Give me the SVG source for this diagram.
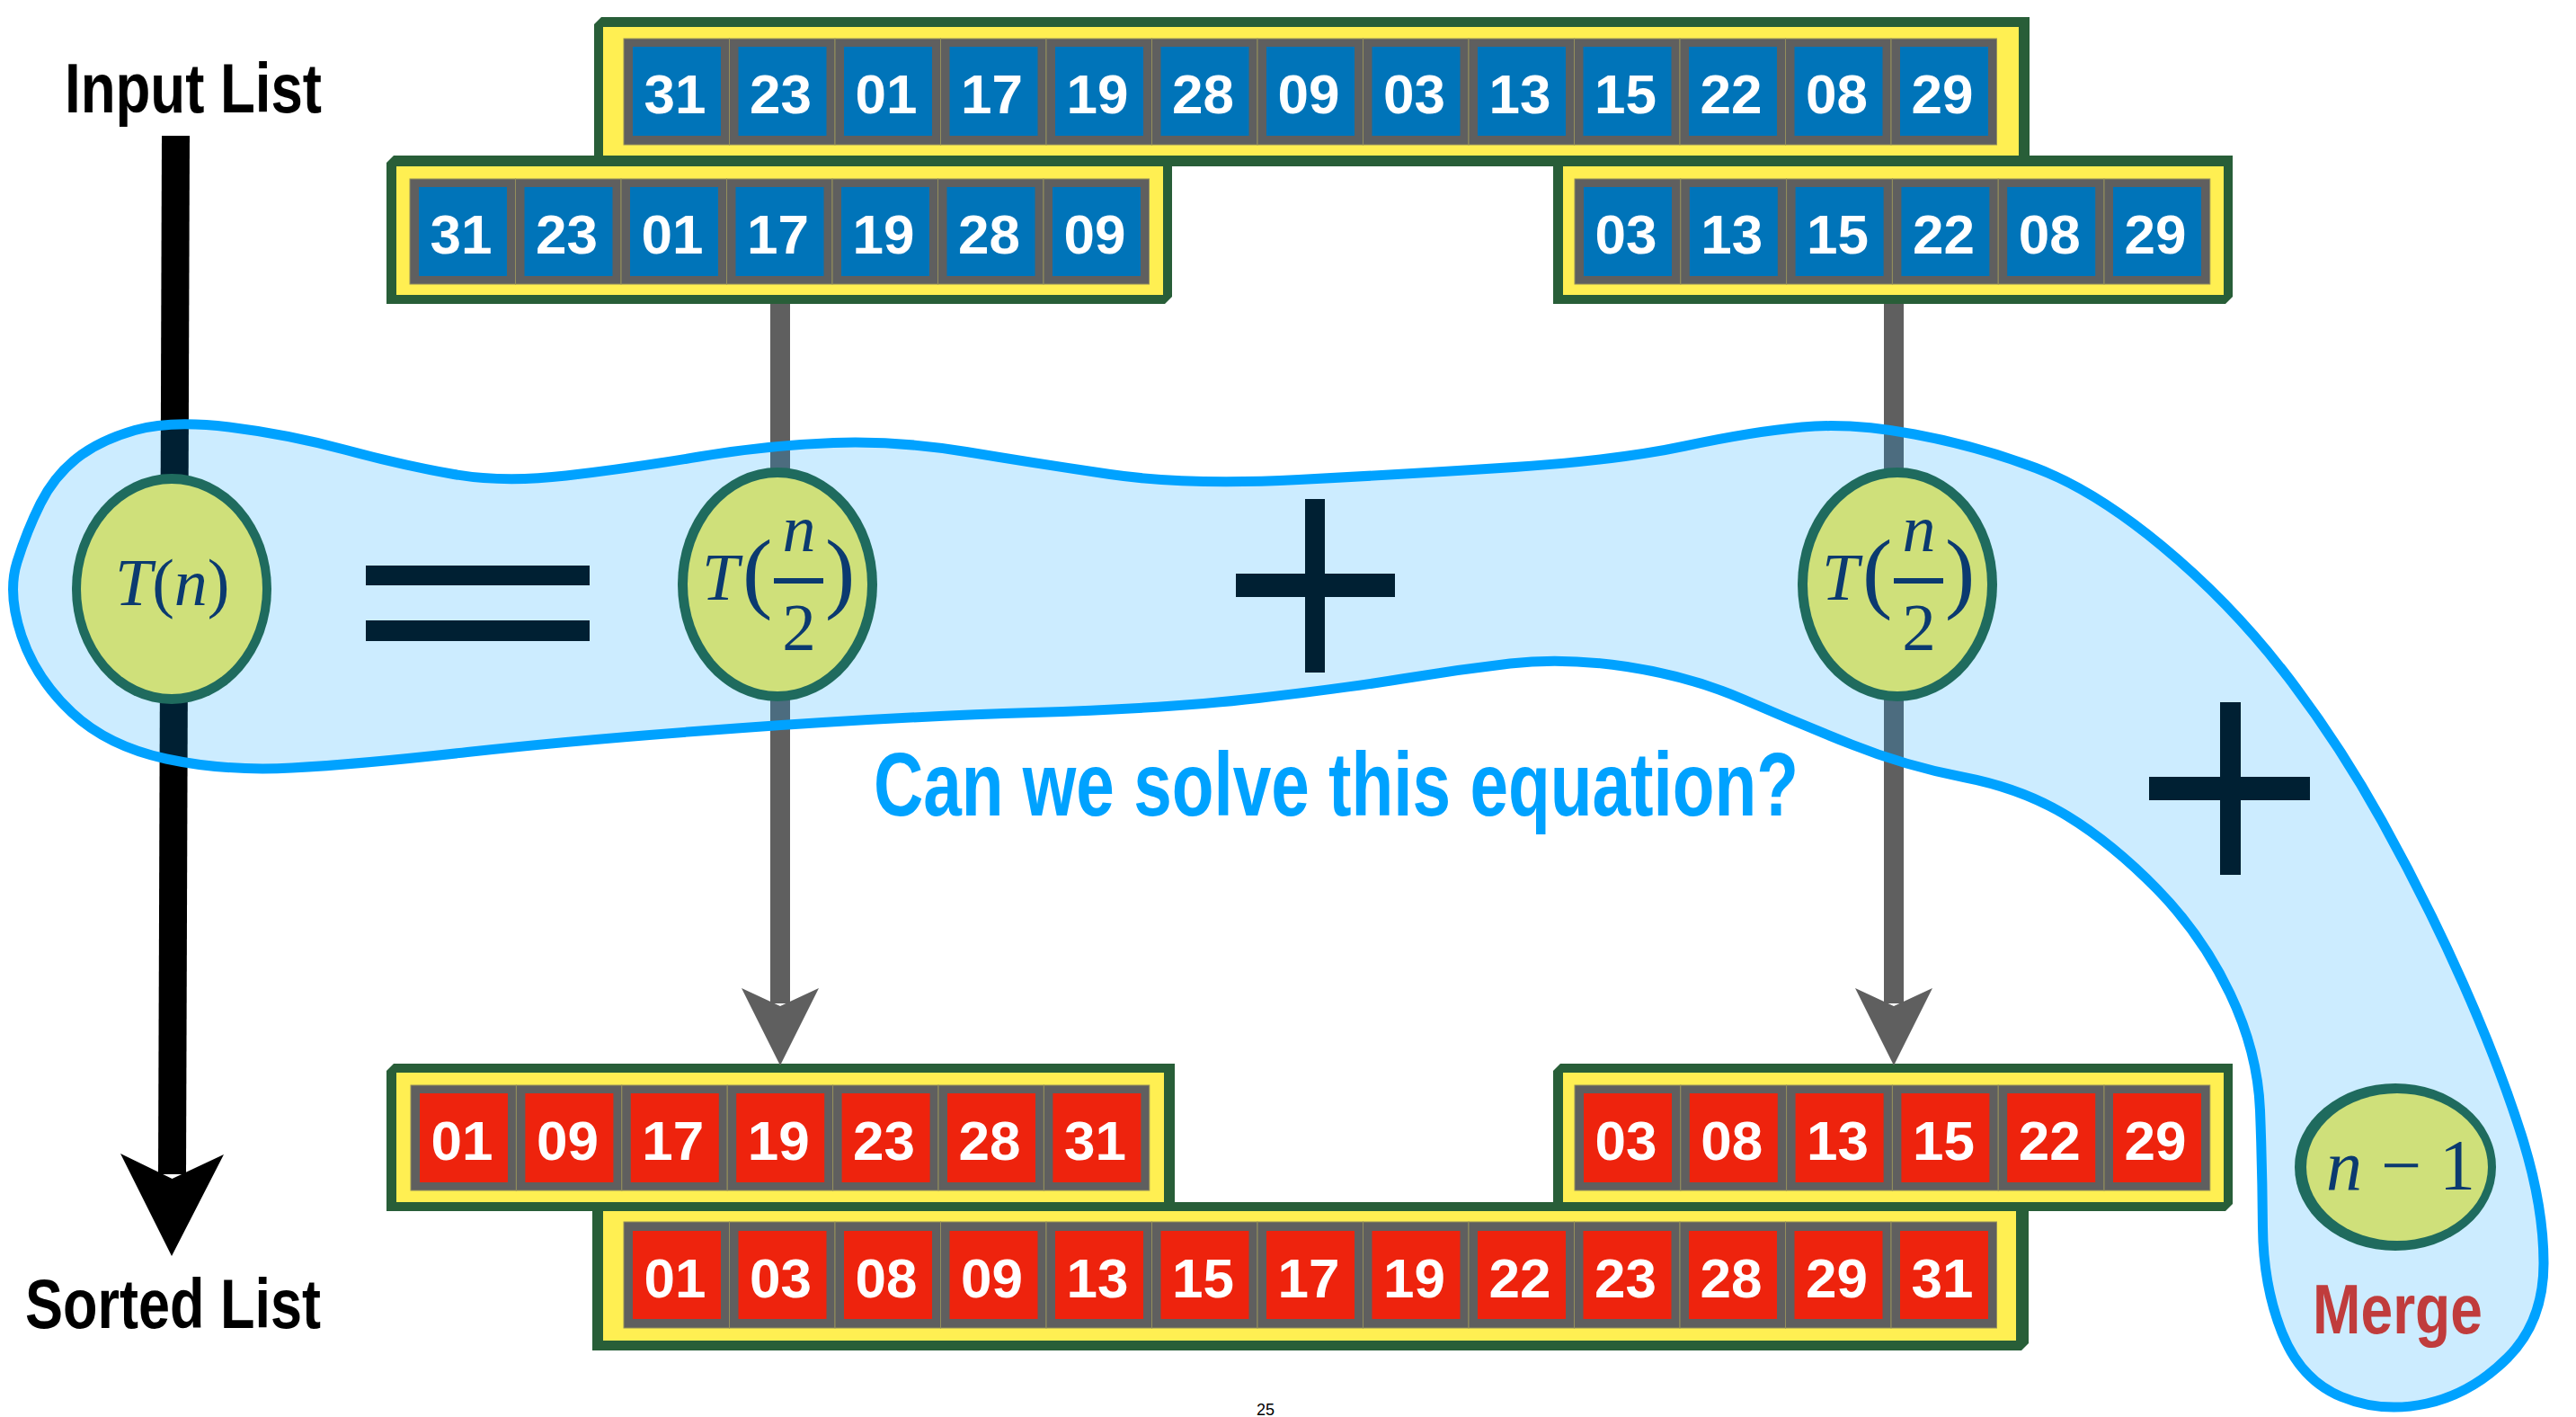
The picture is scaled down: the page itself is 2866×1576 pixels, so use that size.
<svg xmlns="http://www.w3.org/2000/svg" width="2866" height="1576" viewBox="0 0 2866 1576">
<style>
.gf{fill:#285e38}
.yf{fill:#ffef52}
.gc{fill:#5f5f5f;stroke:#948f5c;stroke-width:1}
.bc{fill:#0074b9}
.rc{fill:#ee230d}
.d{font-family:"Liberation Sans",Arial,sans-serif;font-weight:bold;font-size:62px;fill:#ffffff;text-anchor:middle}
.ed{fill:#1f6b5e}
.el{fill:#cfe07a}
.m{font-family:"Liberation Serif","Times New Roman",serif;fill:#0b3a70}
.lbl{font-family:"Liberation Sans",Arial,sans-serif;font-weight:bold}
.sign{fill:#000000}
</style>
<rect width="2866" height="1576" fill="#ffffff"/>

<g id="row-input">
<path class="gf" d="M661,27 L669,19 H2258 V177 L2250,185 H661 Z"/>
<rect class="yf" x="671" y="30" width="1575" height="143"/>
<rect class="gc" x="694" y="43" width="117.5" height="118"/><rect class="bc" x="704" y="52" width="98" height="99"/><text class="d" x="751" y="126">31</text>
<rect class="gc" x="811.5" y="43" width="117.5" height="118"/><rect class="bc" x="821.5" y="52" width="98" height="99"/><text class="d" x="868.5" y="126">23</text>
<rect class="gc" x="929" y="43" width="117.5" height="118"/><rect class="bc" x="939" y="52" width="98" height="99"/><text class="d" x="986" y="126">01</text>
<rect class="gc" x="1046.5" y="43" width="117.5" height="118"/><rect class="bc" x="1056.5" y="52" width="98" height="99"/><text class="d" x="1103.5" y="126">17</text>
<rect class="gc" x="1164" y="43" width="117.5" height="118"/><rect class="bc" x="1174" y="52" width="98" height="99"/><text class="d" x="1221" y="126">19</text>
<rect class="gc" x="1281.5" y="43" width="117.5" height="118"/><rect class="bc" x="1291.5" y="52" width="98" height="99"/><text class="d" x="1338.5" y="126">28</text>
<rect class="gc" x="1399" y="43" width="117.5" height="118"/><rect class="bc" x="1409" y="52" width="98" height="99"/><text class="d" x="1456" y="126">09</text>
<rect class="gc" x="1516.5" y="43" width="117.5" height="118"/><rect class="bc" x="1526.5" y="52" width="98" height="99"/><text class="d" x="1573.5" y="126">03</text>
<rect class="gc" x="1634" y="43" width="117.5" height="118"/><rect class="bc" x="1644" y="52" width="98" height="99"/><text class="d" x="1691" y="126">13</text>
<rect class="gc" x="1751.5" y="43" width="117.5" height="118"/><rect class="bc" x="1761.5" y="52" width="98" height="99"/><text class="d" x="1808.5" y="126">15</text>
<rect class="gc" x="1869" y="43" width="117.5" height="118"/><rect class="bc" x="1879" y="52" width="98" height="99"/><text class="d" x="1926" y="126">22</text>
<rect class="gc" x="1986.5" y="43" width="117.5" height="118"/><rect class="bc" x="1996.5" y="52" width="98" height="99"/><text class="d" x="2043.5" y="126">08</text>
<rect class="gc" x="2104" y="43" width="117.5" height="118"/><rect class="bc" x="2114" y="52" width="98" height="99"/><text class="d" x="2161" y="126">29</text>
</g>

<g id="row-split-left">
<path class="gf" d="M430,181 L438,173 H1304 V330 L1296,338 H430 Z"/>
<rect class="yf" x="441" y="185" width="853" height="143"/>
<rect class="gc" x="456" y="199" width="117.5" height="117"/><rect class="bc" x="466" y="208" width="98" height="99"/><text class="d" x="513" y="282">31</text>
<rect class="gc" x="573.5" y="199" width="117.5" height="117"/><rect class="bc" x="583.5" y="208" width="98" height="99"/><text class="d" x="630.5" y="282">23</text>
<rect class="gc" x="691" y="199" width="117.5" height="117"/><rect class="bc" x="701" y="208" width="98" height="99"/><text class="d" x="748" y="282">01</text>
<rect class="gc" x="808.5" y="199" width="117.5" height="117"/><rect class="bc" x="818.5" y="208" width="98" height="99"/><text class="d" x="865.5" y="282">17</text>
<rect class="gc" x="926" y="199" width="117.5" height="117"/><rect class="bc" x="936" y="208" width="98" height="99"/><text class="d" x="983" y="282">19</text>
<rect class="gc" x="1043.5" y="199" width="117.5" height="117"/><rect class="bc" x="1053.5" y="208" width="98" height="99"/><text class="d" x="1100.5" y="282">28</text>
<rect class="gc" x="1161" y="199" width="117.5" height="117"/><rect class="bc" x="1171" y="208" width="98" height="99"/><text class="d" x="1218" y="282">09</text>
</g>

<g id="row-split-right">
<path class="gf" d="M1728,181 L1736,173 H2484 V330 L2476,338 H1728 Z"/>
<rect class="yf" x="1739" y="185" width="735" height="143"/>
<rect class="gc" x="1752" y="199" width="117.8" height="117"/><rect class="bc" x="1762" y="208" width="98" height="99"/><text class="d" x="1809" y="282">03</text>
<rect class="gc" x="1869.8" y="199" width="117.8" height="117"/><rect class="bc" x="1879.8" y="208" width="98" height="99"/><text class="d" x="1926.8" y="282">13</text>
<rect class="gc" x="1987.6" y="199" width="117.8" height="117"/><rect class="bc" x="1997.6" y="208" width="98" height="99"/><text class="d" x="2044.6" y="282">15</text>
<rect class="gc" x="2105.4" y="199" width="117.8" height="117"/><rect class="bc" x="2115.4" y="208" width="98" height="99"/><text class="d" x="2162.4" y="282">22</text>
<rect class="gc" x="2223.2" y="199" width="117.8" height="117"/><rect class="bc" x="2233.2" y="208" width="98" height="99"/><text class="d" x="2280.2" y="282">08</text>
<rect class="gc" x="2341" y="199" width="117.8" height="117"/><rect class="bc" x="2351" y="208" width="98" height="99"/><text class="d" x="2398" y="282">29</text>
</g>

<g id="row-sorted-left">
<path class="gf" d="M430,1191 L438,1183 H1307 V1339 L1299,1347 H430 Z"/>
<rect class="yf" x="441" y="1193" width="854" height="144"/>
<rect class="gc" x="457" y="1207" width="117.4" height="117"/><rect class="rc" x="467" y="1216" width="98" height="99"/><text class="d" x="514" y="1290">01</text>
<rect class="gc" x="574.4" y="1207" width="117.4" height="117"/><rect class="rc" x="584.4" y="1216" width="98" height="99"/><text class="d" x="631.4" y="1290">09</text>
<rect class="gc" x="691.8" y="1207" width="117.4" height="117"/><rect class="rc" x="701.8" y="1216" width="98" height="99"/><text class="d" x="748.8" y="1290">17</text>
<rect class="gc" x="809.2" y="1207" width="117.4" height="117"/><rect class="rc" x="819.2" y="1216" width="98" height="99"/><text class="d" x="866.2" y="1290">19</text>
<rect class="gc" x="926.6" y="1207" width="117.4" height="117"/><rect class="rc" x="936.6" y="1216" width="98" height="99"/><text class="d" x="983.6" y="1290">23</text>
<rect class="gc" x="1044" y="1207" width="117.4" height="117"/><rect class="rc" x="1054" y="1216" width="98" height="99"/><text class="d" x="1101" y="1290">28</text>
<rect class="gc" x="1161.4" y="1207" width="117.4" height="117"/><rect class="rc" x="1171.4" y="1216" width="98" height="99"/><text class="d" x="1218.4" y="1290">31</text>
</g>

<g id="row-sorted-right">
<path class="gf" d="M1728,1191 L1736,1183 H2484 V1339 L2476,1347 H1728 Z"/>
<rect class="yf" x="1739" y="1193" width="735" height="144"/>
<rect class="gc" x="1752" y="1207" width="117.8" height="117"/><rect class="rc" x="1762" y="1216" width="98" height="99"/><text class="d" x="1809" y="1290">03</text>
<rect class="gc" x="1869.8" y="1207" width="117.8" height="117"/><rect class="rc" x="1879.8" y="1216" width="98" height="99"/><text class="d" x="1926.8" y="1290">08</text>
<rect class="gc" x="1987.6" y="1207" width="117.8" height="117"/><rect class="rc" x="1997.6" y="1216" width="98" height="99"/><text class="d" x="2044.6" y="1290">13</text>
<rect class="gc" x="2105.4" y="1207" width="117.8" height="117"/><rect class="rc" x="2115.4" y="1216" width="98" height="99"/><text class="d" x="2162.4" y="1290">15</text>
<rect class="gc" x="2223.2" y="1207" width="117.8" height="117"/><rect class="rc" x="2233.2" y="1216" width="98" height="99"/><text class="d" x="2280.2" y="1290">22</text>
<rect class="gc" x="2341" y="1207" width="117.8" height="117"/><rect class="rc" x="2351" y="1216" width="98" height="99"/><text class="d" x="2398" y="1290">29</text>
</g>

<g id="row-sorted">
<path class="gf" d="M659,1345 L667,1337 H2257 V1494 L2249,1502 H659 Z"/>
<rect class="yf" x="671" y="1347" width="1572" height="144"/>
<rect class="gc" x="694" y="1359" width="117.5" height="118"/><rect class="rc" x="704" y="1369" width="98" height="98"/><text class="d" x="751" y="1443">01</text>
<rect class="gc" x="811.5" y="1359" width="117.5" height="118"/><rect class="rc" x="821.5" y="1369" width="98" height="98"/><text class="d" x="868.5" y="1443">03</text>
<rect class="gc" x="929" y="1359" width="117.5" height="118"/><rect class="rc" x="939" y="1369" width="98" height="98"/><text class="d" x="986" y="1443">08</text>
<rect class="gc" x="1046.5" y="1359" width="117.5" height="118"/><rect class="rc" x="1056.5" y="1369" width="98" height="98"/><text class="d" x="1103.5" y="1443">09</text>
<rect class="gc" x="1164" y="1359" width="117.5" height="118"/><rect class="rc" x="1174" y="1369" width="98" height="98"/><text class="d" x="1221" y="1443">13</text>
<rect class="gc" x="1281.5" y="1359" width="117.5" height="118"/><rect class="rc" x="1291.5" y="1369" width="98" height="98"/><text class="d" x="1338.5" y="1443">15</text>
<rect class="gc" x="1399" y="1359" width="117.5" height="118"/><rect class="rc" x="1409" y="1369" width="98" height="98"/><text class="d" x="1456" y="1443">17</text>
<rect class="gc" x="1516.5" y="1359" width="117.5" height="118"/><rect class="rc" x="1526.5" y="1369" width="98" height="98"/><text class="d" x="1573.5" y="1443">19</text>
<rect class="gc" x="1634" y="1359" width="117.5" height="118"/><rect class="rc" x="1644" y="1369" width="98" height="98"/><text class="d" x="1691" y="1443">22</text>
<rect class="gc" x="1751.5" y="1359" width="117.5" height="118"/><rect class="rc" x="1761.5" y="1369" width="98" height="98"/><text class="d" x="1808.5" y="1443">23</text>
<rect class="gc" x="1869" y="1359" width="117.5" height="118"/><rect class="rc" x="1879" y="1369" width="98" height="98"/><text class="d" x="1926" y="1443">28</text>
<rect class="gc" x="1986.5" y="1359" width="117.5" height="118"/><rect class="rc" x="1996.5" y="1369" width="98" height="98"/><text class="d" x="2043.5" y="1443">29</text>
<rect class="gc" x="2104" y="1359" width="117.5" height="118"/><rect class="rc" x="2114" y="1369" width="98" height="98"/><text class="d" x="2161" y="1443">31</text>
</g>

<g id="connectors">
<line x1="195.5" y1="151" x2="191.5" y2="1306" stroke="#000000" stroke-width="31"/>
<polygon points="134,1283 191.5,1311 249,1284 191,1397" fill="#000000"/>
<line x1="868" y1="338" x2="868" y2="1116" stroke="#5f5f5f" stroke-width="22"/>
<polygon points="825,1099 868,1119 911,1099 868,1185" fill="#5f5f5f"/>
<line x1="2107" y1="338" x2="2107" y2="1116" stroke="#5f5f5f" stroke-width="22"/>
<polygon points="2064,1099 2107,1119 2150,1099 2107,1185" fill="#5f5f5f"/>
</g>

<g id="equals">
<rect class="sign" x="407" y="629" width="249" height="22"/>
<rect class="sign" x="407" y="690" width="249" height="23"/>
</g>
<g id="plus-1">
<rect class="sign" x="1452" y="555" width="22" height="193"/>
<rect class="sign" x="1375" y="638" width="177" height="26"/>
</g>
<g id="plus-2">
<rect class="sign" x="2470" y="781" width="23" height="192"/>
<rect class="sign" x="2391" y="864" width="179" height="26"/>
</g>

<g id="equation-blob">
<path d="M24,707.5 Q8,660 19,625 Q30,590 45,560 Q60,530 85,510 Q110,490 150,478.5 Q190,467 255,475 Q320,483 385,500.5 Q450,518 505,527.5 Q560,537 630,529 Q700,521 777.5,508 Q855,495 927.5,492.5 Q1000,490 1075,502.5 Q1150,515 1235,527.5 Q1320,540 1445,533.5 Q1570,527 1685,519.5 Q1800,512 1875,496 Q1950,480 2005,475 Q2060,470 2130,483 Q2200,496 2265,520.5 Q2330,545 2405,607 Q2480,669 2540,746 Q2600,823 2650,913 Q2700,1003 2740,1093 Q2780,1183 2805,1261.5 Q2830,1340 2830,1405 Q2830,1470 2790,1510 Q2750,1550 2700,1561 Q2650,1572 2605,1553.5 Q2560,1535 2539,1482.5 Q2518,1430 2517.5,1365 Q2517,1300 2514.5,1235 Q2512,1170 2481,1105 Q2450,1040 2400,989 Q2350,938 2300,907.5 Q2250,877 2185,864.5 Q2120,852 2060,828 Q2000,804 1940,778 Q1880,752 1810,741.5 Q1740,731 1680,738 Q1620,745 1560,755 Q1500,765 1400,776.5 Q1300,788 1150,792.5 Q1000,797 820,810 Q640,823 520,836.5 Q400,850 325,854 Q250,858 185,844 Q120,830 80,792.5 Q40,755 24,707.5 Z" fill="#00a2ff" fill-opacity="0.2" stroke="#00a2ff" stroke-width="11"/>
</g>

<g id="node-Tn">
<ellipse class="ed" cx="191" cy="655" rx="111" ry="128"/>
<ellipse class="el" cx="191" cy="655" rx="101" ry="117"/>
<text class="m" x="128" y="673" font-size="74"><tspan font-style="italic">T</tspan>(<tspan font-style="italic">n</tspan>)</text>
</g>

<g id="node-Tn2-left">
<ellipse class="ed" cx="865" cy="650" rx="111" ry="130"/>
<ellipse class="el" cx="865" cy="650" rx="100" ry="119"/>
<text class="m" x="781" y="667" font-size="74" font-style="italic">T</text>
<text class="m" x="826" y="669" font-size="100">(</text>
<text class="m" x="889" y="613" font-size="74" font-style="italic" text-anchor="middle">n</text>
<rect x="861" y="643" width="55" height="6" fill="#0b3a70"/>
<text class="m" x="889" y="723" font-size="75" text-anchor="middle">2</text>
<text class="m" x="918" y="669" font-size="100">)</text>
</g>

<g id="node-Tn2-right">
<ellipse class="ed" cx="2111" cy="650" rx="111" ry="130"/>
<ellipse class="el" cx="2111" cy="650" rx="100" ry="119"/>
<text class="m" x="2027" y="667" font-size="74" font-style="italic">T</text>
<text class="m" x="2072" y="669" font-size="100">(</text>
<text class="m" x="2135" y="613" font-size="74" font-style="italic" text-anchor="middle">n</text>
<rect x="2107" y="643" width="55" height="6" fill="#0b3a70"/>
<text class="m" x="2135" y="723" font-size="75" text-anchor="middle">2</text>
<text class="m" x="2164" y="669" font-size="100">)</text>
</g>

<g id="node-merge">
<ellipse class="ed" cx="2665" cy="1298" rx="112" ry="93"/>
<ellipse class="el" cx="2667" cy="1298" rx="101" ry="82"/>
<text class="m" x="2588" y="1323" font-size="80" font-style="italic">n</text>
<text class="m" x="2649" y="1323" font-size="80">−</text>
<text class="m" x="2734" y="1323" font-size="80" text-anchor="middle">1</text>
<text class="lbl" x="2573" y="1483" font-size="77" fill="#c03c3c" textLength="189" lengthAdjust="spacingAndGlyphs">Merge</text>
</g>

<text class="lbl" x="72" y="125" font-size="78" fill="#000000" textLength="286" lengthAdjust="spacingAndGlyphs">Input List</text>
<text class="lbl" x="28" y="1477" font-size="77" fill="#000000" textLength="329" lengthAdjust="spacingAndGlyphs">Sorted List</text>
<text class="lbl" x="972" y="907" font-size="100" fill="#00a2ff" textLength="1029" lengthAdjust="spacingAndGlyphs">Can we solve this equation?</text>
<text x="1408" y="1574" font-family="Liberation Sans, Arial, sans-serif" font-size="18" fill="#000000" text-anchor="middle">25</text>
</svg>
